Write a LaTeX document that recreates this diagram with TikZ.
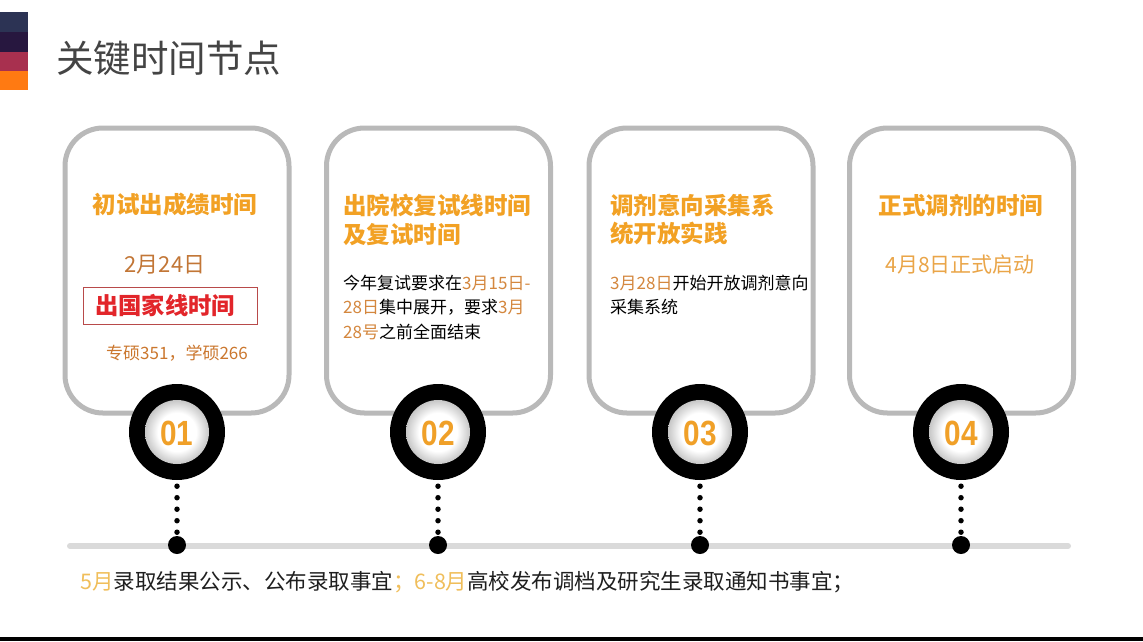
\documentclass[tikz,border=0pt]{standalone}
\usepackage{fontspec}
\setmainfont{Noto Sans CJK SC}
\newfontfamily\numfont{Liberation Sans}
\usetikzlibrary{calc}
\definecolor{ttl}{HTML}{444444}
\definecolor{otitle}{HTML}{F2A124}
\definecolor{obrown}{HTML}{C27636}
\definecolor{obody}{HTML}{D4873E}
\definecolor{onum}{HTML}{F0A028}
\definecolor{ored}{HTML}{E2252A}
\definecolor{boxred}{HTML}{B84A4A}
\definecolor{ofour}{HTML}{EAA548}
\definecolor{oyel}{HTML}{F0BE5A}
\definecolor{cardgray}{HTML}{B9B9B9}
\definecolor{linegray}{HTML}{DADADA}
\definecolor{barA}{HTML}{2C3354}
\definecolor{barB}{HTML}{27173F}
\definecolor{barC}{HTML}{A8304F}
\definecolor{barD}{HTML}{FF7A12}
\newcommand\fsz[1]{\fontsize{#1}{#1}\selectfont}
\pgfdeclareradialshading{ringinside}{\pgfpoint{0bp}{0bp}}{color(0bp)=(white); color(15bp)=(white); color(25bp)=(black!22); color(50bp)=(black!22)}
\tikzset{
  card/.style={draw=cardgray, line width=5pt, fill=white, rounded corners=38pt,
    minimum width=224pt, minimum height=285pt, inner sep=0pt},
  ring/.style={circle, fill=black, minimum size=96pt, inner sep=0pt},
  ringin/.style={circle, shading=ringinside, minimum size=64pt, inner sep=0pt},
  numtxt/.style={font=\numfont\bfseries\fsz{35}, text=onum, xscale=0.85, inner sep=0pt},
  ctitle/.style={font=\bfseries\fsz{23.5}, text=otitle, inner sep=0pt},
  cbody/.style={font=\fsz{17}, text=black, inner sep=0pt, anchor=west},
  tdot/.style={circle, fill=black, minimum size=18pt, inner sep=0pt},
  dotline/.style={line width=5.5pt, line cap=round, dash pattern=on 0pt off 11.5pt},
}
\begin{document}
\begin{tikzpicture}[x=1pt,y=-1pt]
\useasboundingbox (0,0) rectangle (1143,641);
\fill[white] (0,0) rectangle (1143,641);
% left colour bar
\fill[barA] (0,12) rectangle (28,32);
\fill[barB] (0,32) rectangle (28,52);
\fill[barC] (0,52) rectangle (28,71);
\fill[barD] (0,71) rectangle (28,90);
\node[anchor=west, inner sep=0pt, font=\fsz{37.5}, text=ttl] (title) at (56,58) {关键时间节点};
% cards
\node[card] (k1) at (177,270.5) {};
\node[card] (k2) at (438.5,270.5) {};
\node[card] (k3) at (701,270.5) {};
\node[card] (k4) at (961.5,270.5) {};
% card 1
\node[ctitle] (t1) at (175,205) {初试出成绩时间};
\node[inner sep=0pt, font=\fsz{22}, text=obrown] (d1a) at (165,265) {2月24日};
\node[draw=boxred, line width=1pt, minimum width=174pt, minimum height=37pt, inner sep=0pt] (redbox) at (170,305.5) {};
\node[anchor=west, inner sep=0pt, font=\bfseries\fsz{23.3}, text=ored] (redtxt) at (95,305.5) {出国家线时间};
\node[inner sep=0pt, font=\fsz{17}, text=obrown!85!orange] (score) at (177,353) {专硕351，学硕266};
% card 2
\node[ctitle, anchor=west] (t2a) at (343,205) {出院校复试线时间};
\node[ctitle, anchor=west] (t2b) at (343,235) {及复试时间};
\node[cbody] (b2a) at (343,283) {今年复试要求在\textcolor{obody}{3月15日-}};
\node[cbody] (b2b) at (343,307.5) {\textcolor{obody}{28日}集中展开，要求\textcolor{obody}{3月}};
\node[cbody] (b2c) at (343,332) {\textcolor{obody}{28号}之前全面结束};
% card 3
\node[ctitle, anchor=west] (t3a) at (610,205) {调剂意向采集系};
\node[ctitle, anchor=west] (t3b) at (610,234) {统开放实践};
\node[cbody] (b3a) at (610,283) {\textcolor{obody}{3月28日}开始开放调剂意向};
\node[cbody] (b3b) at (610,307) {采集系统};
% card 4
\node[ctitle] (t4) at (961,205) {正式调剂的时间};
\node[inner sep=0pt, font=\fsz{21}, text=ofour] (d4) at (960,265) {4月8日正式启动};
% timeline
\coordinate (tlL) at (70,546);
\coordinate (tlR) at (1068,546);
\draw[linegray, line width=6pt, line cap=round] (tlL) -- (tlR);
\foreach \i/\x/\n in {1/177/01, 2/438/02, 3/700/03, 4/961/04}{
  \node[ring] (r\i) at (\x,432) {};
  \node[ringin] (ri\i) at (\x,432) {};
  \node[numtxt] (n\i) at (\x,433) {\n};
  \node[tdot] (p\i) at (\x,545) {};
  \draw[dotline, shorten <=6pt] (r\i.south) -- (p\i.center);
}
% bottom text
\node[anchor=west, inner sep=0pt, font=\fsz{21.5}, text=black!88] (bottom) at (80,582)
  {\textcolor{oyel}{5月}录取结果公示、公布录取事宜\textcolor{oyel}{；6-8月}高校发布调档及研究生录取通知书事宜；};
\fill[black] (0,637) rectangle (1143,641);
\end{tikzpicture}
\end{document}
